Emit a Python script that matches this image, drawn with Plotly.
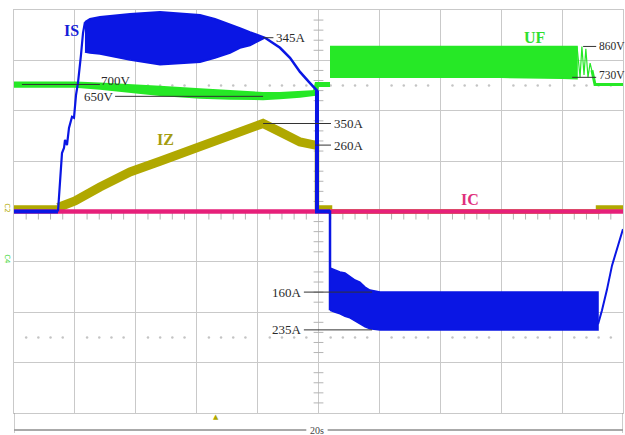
import plotly.graph_objects as go

# ---------------- screen / channel setup ----------------
T_PER_DIV = 2.0          # s per horizontal division
N_XDIV, N_YDIV = 10, 8
T_END = T_PER_DIV * N_XDIV

# channel scales (units per division) and trace offsets (divisions)
IS_PER_DIV, IS_OFF = 100.0, 0.0     # stator current, A
IZ_PER_DIV, IZ_OFF = 210.0, 0.08    # intermediate current, A
UF_PER_DIV, UF_OFF = 212.0, -0.78   # DC link voltage, V
IC_PER_DIV, IC_OFF = 100.0, 0.0     # chopper current, A

BLUE = "#0a16e4"
GREEN = "#26e826"
OLIVE = "#b0a800"
PINK = "#e6207a"

# ---------------- IS (A) ----------------
is_pre_t = [0.0, 1.445]
is_pre_v = [0, 0]
is_rise_t = [1.445, 1.51, 1.576, 1.642, 1.675, 1.74, 1.806, 1.905, 1.97, 2.036, 2.10, 2.20, 2.266, 2.33]
is_rise_v = [0, 53, 116, 126, 142, 132, 166, 188, 186, 231, 255, 311, 354, 376]
is_band_t = [2.33, 2.496, 2.824, 3.81, 4.795, 6.108, 6.601, 7.094, 7.42, 7.75, 8.243]
is_band_hi = [376, 382, 386, 392, 396, 390, 382, 372, 364, 356, 345]
is_band_lo = [317, 315, 313, 301, 292, 297, 305, 315, 325, 330, 345]
is_fall_t = [8.243, 8.736, 9.064, 9.392, 9.721, 9.885, 9.95, 9.95, 10.378, 10.378]
is_fall_v = [345, 325, 305, 277, 255, 245, 240, 0, 0, -196]
is_neg_t = [10.378, 10.55, 10.706, 10.87, 11.03, 11.2, 11.36, 11.53, 11.69, 12.02, 19.18]
is_neg_hi = [-112, -116, -120, -122, -128, -136, -140, -150, -156, -160, -160]
is_neg_lo = [-196, -200, -203, -208, -211, -216, -223, -229, -233, -235, -235]
is_ret_t = [19.18, 19.31, 19.47, 19.64, 19.84, 20.0]
is_ret_v = [-224, -196, -156, -107, -67, -35]

# ---------------- UF (V) ----------------
uf_a_t = [0.0, 2.003, 2.824, 3.81, 4.795, 6.108, 7.094, 8.177, 8.736, 9.392, 9.885]
uf_a_hi = [708, 708, 704, 698, 690, 680, 672, 664, 664, 668, 672]
uf_a_lo = [690, 690, 682, 670, 656, 644, 640, 638, 642, 648, 656]
uf_b_t = [9.885, 9.95, 10.378]
uf_b_v = [664, 700, 700]
uf_c_t = [10.378, 12.0, 14.0, 16.0, 18.0, 18.49]
uf_c_hi = [860, 860, 860, 860, 860, 860]
uf_c_lo = [730, 730, 730, 730, 726, 724]
uf_d_t = [18.49, 18.59, 18.65, 18.72, 18.78, 18.85, 18.92, 18.98, 19.08, 20.0]
uf_d_v = [860, 730, 860, 740, 850, 730, 790, 760, 700, 700]

# ---------------- IZ (A) ----------------
iz_t = [0.0, 1.445, 1.708, 2.003, 2.824, 3.81, 4.795, 6.108, 7.42, 8.177, 8.736,
        9.392, 9.885, 9.95, 9.95, 10.378, 10.378, 19.18, 19.18, 20.0]
iz_v = [0, 0, 15, 27, 85, 148, 193, 256, 315, 350, 315,
        273, 260, 260, 0, 0, -17, -17, 0, 0]
IZ_RAMP = slice(1, 14)   # samples of the current ramp (drawn thicker, noisy band)

# ---------------- IC (A) ----------------
ic_t = [0.0, 20.0]
ic_v = [0, 0]

# ---------------- annotated values ----------------
IS_MARKS = [345, -160, -235]
IZ_MARKS = [350, 260]
UF_MARKS = [700, 650, 860, 730]


def div(values, per_div, off):
    return [v / per_div + off for v in values]


def is_d(v):
    return v / IS_PER_DIV + IS_OFF


def iz_d(v):
    return v / IZ_PER_DIV + IZ_OFF


def uf_d(v):
    return v / UF_PER_DIV + UF_OFF


fig = go.Figure()

# graticule: minor dots on the +/-2.5 div rows and centre-axis ticks
GRID = "#c9c9c9"
dot_t = [i * 0.4 for i in range(51) if i % 5 != 0]
fig.add_trace(go.Scatter(x=dot_t * 2, y=[2.5] * len(dot_t) + [-2.5] * len(dot_t),
                         mode="markers", marker=dict(size=2.5, color="#c4c4c4"),
                         hoverinfo="skip", showlegend=False))
tick_y = [i * 0.2 - 4 for i in range(41) if i % 5 != 0]
fig.add_trace(go.Scatter(x=[10.0] * len(tick_y), y=tick_y, mode="markers",
                         marker=dict(symbol="line-ew", size=7, line=dict(width=1, color="#b4b4b4")),
                         hoverinfo="skip", showlegend=False))
fig.add_trace(go.Scatter(x=dot_t, y=[-0.09] * len(dot_t), mode="markers",
                         marker=dict(symbol="line-ns", size=5, line=dict(width=1, color="#b4b4b4")),
                         hoverinfo="skip", showlegend=False))


def band(t, hi, lo, per_div, off, color, width=1.2):
    fig.add_trace(go.Scatter(x=t + t[::-1], y=div(hi, per_div, off) + div(lo[::-1], per_div, off),
                             mode="lines", fill="toself", fillcolor=color,
                             line=dict(color=color, width=width),
                             hoverinfo="skip", showlegend=False))


def line(t, v, per_div, off, color, width):
    fig.add_trace(go.Scatter(x=t, y=div(v, per_div, off), mode="lines",
                             line=dict(color=color, width=width),
                             hoverinfo="skip", showlegend=False))


# IZ (thin baseline, thick ramp)
line(iz_t, iz_v, IZ_PER_DIV, IZ_OFF, OLIVE, 4.5)
line(iz_t[IZ_RAMP], iz_v[IZ_RAMP], IZ_PER_DIV, IZ_OFF, OLIVE, 9)
# IC
line(ic_t, ic_v, IC_PER_DIV, IC_OFF, PINK, 4.5)
# UF
band(uf_a_t, uf_a_hi, uf_a_lo, UF_PER_DIV, UF_OFF, GREEN, 2)
line(uf_b_t, uf_b_v, UF_PER_DIV, UF_OFF, GREEN, 5)
band(uf_c_t, uf_c_hi, uf_c_lo, UF_PER_DIV, UF_OFF, GREEN, 1.5)
line(uf_d_t, uf_d_v, UF_PER_DIV, UF_OFF, GREEN, 1.2)
line(uf_d_t[-3:], uf_d_v[-3:], UF_PER_DIV, UF_OFF, GREEN, 3)
# IS
line(is_pre_t, is_pre_v, IS_PER_DIV, IS_OFF, BLUE, 4)
line(is_rise_t, is_rise_v, IS_PER_DIV, IS_OFF, BLUE, 2.2)
band(is_band_t, is_band_hi, is_band_lo, IS_PER_DIV, IS_OFF, BLUE, 2)
line(is_fall_t, is_fall_v, IS_PER_DIV, IS_OFF, BLUE, 2.5)
band(is_neg_t, is_neg_hi, is_neg_lo, IS_PER_DIV, IS_OFF, BLUE, 1.5)
line(is_ret_t, is_ret_v, IS_PER_DIV, IS_OFF, BLUE, 2)
line(is_fall_t[6:9], is_fall_v[6:9], IS_PER_DIV, IS_OFF, BLUE, 4)

# ---------------- value callouts ----------------
MARK_FONT = dict(family="Liberation Serif", size=13, color="#2a2a2a")
shapes = []
annots = []


def callout(x0, x1, y, text, tx, anchor, yshift=0, size=13):
    shapes.append(dict(type="line", xref="x", yref="y", x0=x0, x1=x1, y0=y, y1=y,
                       line=dict(color="#333333", width=1)))
    annots.append(dict(x=tx, y=y, xref="x", yref="y", text=text, showarrow=False,
                       xanchor=anchor, yanchor="middle", yshift=yshift,
                       font=dict(MARK_FONT, size=size)))


callout(8.18, 8.52, is_d(IS_MARKS[0]), f"{IS_MARKS[0]}A", 8.54, "left")
callout(0.26, 2.82, uf_d(UF_MARKS[0]), f"{UF_MARKS[0]}V", 2.80, "left", 4)
callout(3.32, 8.18, uf_d(UF_MARKS[1]), f"{UF_MARKS[1]}V", 3.34, "right")
callout(8.18, 10.41, iz_d(IZ_MARKS[0]), f"{IZ_MARKS[0]}A", 10.44, "left")
callout(9.885, 10.41, iz_d(IZ_MARKS[1]), f"{IZ_MARKS[1]}A", 10.44, "left")
callout(18.69, 19.12, uf_d(UF_MARKS[2]), f"{UF_MARKS[2]}V", 19.13, "left", 0, 11.5)
callout(18.33, 19.12, uf_d(UF_MARKS[3]), f"{UF_MARKS[3]}V", 19.13, "left", 2, 11.5)
callout(9.52, 11.76, is_d(IS_MARKS[1]), f"{abs(IS_MARKS[1])}A", 9.52, "right")
callout(9.52, 11.76, is_d(IS_MARKS[2]), f"{abs(IS_MARKS[2])}A", 9.52, "right")

# channel names
NAME_FONT = "Liberation Serif"
for name, tx, ty, col in [("IS", 1.9, 3.6, "#1420d8"), ("IZ", 4.96, 1.42, "#a49c10"),
                          ("UF", 17.11, 3.46, "#2ee02e"), ("IC", 14.98, 0.23, "#e0307c")]:
    annots.append(dict(x=tx, y=ty, xref="x", yref="y", text=f"<b>{name}</b>", showarrow=False,
                       font=dict(family=NAME_FONT, size=16, color=col)))

# channel ground markers on the left edge
annots.append(dict(x=-0.003, y=iz_d(0), xref="paper", yref="y", text="C2", textangle=90,
                   showarrow=False, xanchor="right", font=dict(family="DejaVu Sans", size=7, color=OLIVE)))
annots.append(dict(x=-0.003, y=-0.95, xref="paper", yref="y", text="C4", textangle=90,
                   showarrow=False, xanchor="right", font=dict(family="DejaVu Sans", size=7, color="#3ad63a")))

# time-base strip under the screen
strip_y = -17 / 403
shapes += [
    dict(type="line", xref="x", yref="paper", x0=0, x1=9.6, y0=strip_y, y1=strip_y,
         line=dict(color="#555555", width=1)),
    dict(type="line", xref="x", yref="paper", x0=10.3, x1=T_END, y0=strip_y, y1=strip_y,
         line=dict(color="#555555", width=1)),
    dict(type="line", xref="x", yref="paper", x0=0, x1=0, y0=0, y1=-20 / 403,
         line=dict(color="#999999", width=1)),
    dict(type="line", xref="x", yref="paper", x0=T_END, x1=T_END, y0=0, y1=-20 / 403,
         line=dict(color="#999999", width=1)),
]
annots.append(dict(x=9.95, y=strip_y, xref="x", yref="paper", text="20s", showarrow=False,
                   font=dict(family="Liberation Serif", size=10, color="#444444"), yanchor="middle"))
annots.append(dict(x=6.63, y=-4 / 403, xref="x", yref="paper", text="▲", showarrow=False,
                   font=dict(family="DejaVu Sans", size=7, color=OLIVE), yanchor="middle"))

fig.update_layout(
    width=625, height=435,
    margin=dict(l=14, r=2, t=10, b=22),
    paper_bgcolor="white", plot_bgcolor="white",
    shapes=shapes, annotations=annots, showlegend=False,
    xaxis=dict(range=[0, T_END], dtick=T_PER_DIV, showgrid=True, gridcolor=GRID, gridwidth=1,
               zeroline=False, showticklabels=False, ticks="", showline=True, mirror=True,
               linecolor=GRID, linewidth=1, fixedrange=True),
    yaxis=dict(range=[-N_YDIV / 2, N_YDIV / 2], dtick=1, showgrid=True, gridcolor=GRID, gridwidth=1,
               zeroline=False, showticklabels=False, ticks="", showline=True, mirror=True,
               linecolor=GRID, linewidth=1, fixedrange=True),
)

fig.write_html("out.html", config={"displayModeBar": False})
